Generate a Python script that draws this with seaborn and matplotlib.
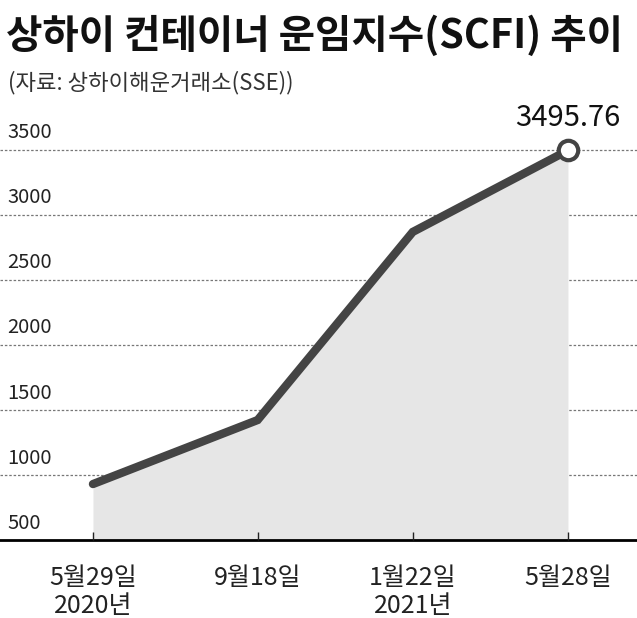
import matplotlib
matplotlib.use("Agg")
import matplotlib.pyplot as plt
import seaborn as sns
import pandas as pd

sns.set_theme(style="white")
plt.rcParams['font.family'] = ['Noto Sans CJK KR', 'DejaVu Sans']

dates = ["5월29일\n2020년", "9월18일", "1월22일\n2021년", "5월28일"]
xpos = [0, 1.04, 2.02, 3]
values = [931, 1423, 2869, 3495.76]
yticks = [500, 1000, 1500, 2000, 2500, 3000, 3500]
df = pd.DataFrame({"x": xpos, "v": values})

fig = plt.figure(figsize=(6.37, 6.18), dpi=100)
ax = fig.add_axes([0, 0.126, 1, 0.672])
ax.set_axisbelow(False)
ax.set_xlim(-0.587, 3.436)
ax.set_ylim(500, 3692)
for t in yticks[1:]:
    ax.axhline(t, color="#777777", lw=0.9, ls=(0, (2, 1.5)), zorder=0)
for t in yticks:
    ax.text(0.012, t + 50, str(t), transform=ax.get_yaxis_transform(),
            fontsize=14.5, color="#222222", va="bottom", ha="left")
ax.fill_between(df["x"], df["v"], 500, color="#e6e6e6", zorder=1, lw=0)
sns.lineplot(data=df, x="x", y="v", ax=ax, color="#444444", lw=6, zorder=2,
             solid_capstyle="round", solid_joinstyle="miter")
ax.plot([xpos[-1]], [values[-1]], "o", ms=14, mfc="white", mec="#444444", mew=3, zorder=3)
ax.text(xpos[-1], values[-1] + 130, f"{values[-1]:.2f}", ha="center", va="bottom",
        fontsize=21, color="#111111")
ax.set_xticks(xpos)
ax.set_xticklabels(dates, fontsize=18, color="#222222", linespacing=1.1, va="top")
ax.tick_params(axis="x", direction="in", length=6, width=1, color="#222222", pad=18, bottom=True)
ax.set_yticks([])
ax.set_xlabel(""); ax.set_ylabel("")
for k, s in ax.spines.items():
    s.set_visible(k == "bottom")
ax.spines["bottom"].set_color("black")
ax.spines["bottom"].set_linewidth(2)

fig.text(0.01, 0.975, "상하이 컨테이너 운임지수(SCFI) 추이", fontsize=28.5, fontweight="bold",
         va="top", ha="left", color="#111111")
fig.text(0.012, 0.885, "(자료: 상하이해운거래소(SSE))", fontsize=16, va="top", ha="left", color="#333333")
fig.savefig("out.png", dpi=100)
